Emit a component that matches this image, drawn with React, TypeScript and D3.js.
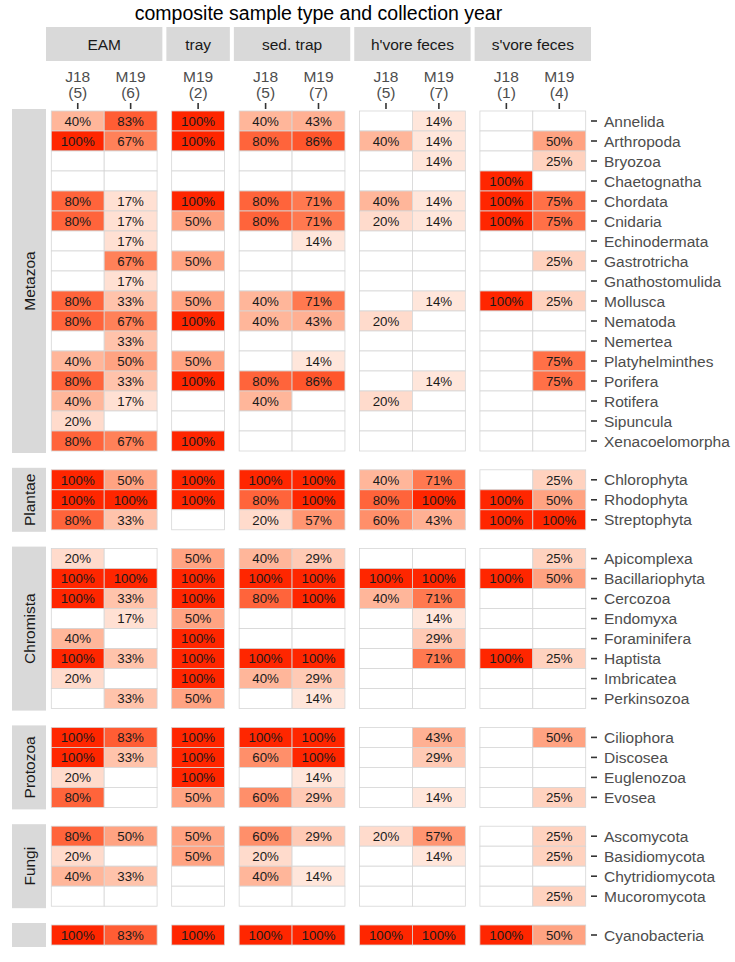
import React, { useEffect, useRef } from 'react';
import * as d3 from 'd3';

// sample columns (facet, collection year, number of samples)
const sampleTypes = ["EAM", "tray", "sed. trap", "h'vore feces", "s'vore feces"];
const columnType = ["EAM", "EAM", "tray", "sed. trap", "sed. trap", "h'vore feces", "h'vore feces", "s'vore feces", "s'vore feces"];
const columnYear = ["J18", "M19", "M19", "J18", "M19", "J18", "M19", "J18", "M19"];
const columnN = [5, 6, 2, 5, 7, 5, 7, 1, 4];

const groups = ["Metazoa", "Plantae", "Chromista", "Protozoa", "Fungi", ""];

const N = null;

const metazoa = ["Annelida", "Arthropoda", "Bryozoa", "Chaetognatha", "Chordata", "Cnidaria", "Echinodermata",
  "Gastrotricha", "Gnathostomulida", "Mollusca", "Nematoda", "Nemertea", "Platyhelminthes", "Porifera",
  "Rotifera", "Sipuncula", "Xenacoelomorpha"];
const metazoaValues = [
  [40, 83, 100, 40, 43, N, 14, N, N],
  [100, 67, 100, 80, 86, 40, 14, N, 50],
  [N, N, N, N, N, N, 14, N, 25],
  [N, N, N, N, N, N, N, 100, N],
  [80, 17, 100, 80, 71, 40, 14, 100, 75],
  [80, 17, 50, 80, 71, 20, 14, 100, 75],
  [N, 17, N, N, 14, N, N, N, N],
  [N, 67, 50, N, N, N, N, N, 25],
  [N, 17, N, N, N, N, N, N, N],
  [80, 33, 50, 40, 71, N, 14, 100, 25],
  [80, 67, 100, 40, 43, 20, N, N, N],
  [N, 33, N, N, N, N, N, N, N],
  [40, 50, 50, N, 14, N, N, N, 75],
  [80, 33, 100, 80, 86, N, 14, N, 75],
  [40, 17, N, 40, N, 20, N, N, N],
  [20, N, N, N, N, N, N, N, N],
  [80, 67, 100, N, N, N, N, N, N],
];

const plantae = ["Chlorophyta", "Rhodophyta", "Streptophyta"];
const plantaeValues = [
  [100, 50, 100, 100, 100, 40, 71, N, 25],
  [100, 100, 100, 80, 100, 80, 100, 100, 50],
  [80, 33, N, 20, 57, 60, 43, 100, 100],
];

const chromista = ["Apicomplexa", "Bacillariophyta", "Cercozoa", "Endomyxa", "Foraminifera", "Haptista",
  "Imbricatea", "Perkinsozoa"];
const chromistaValues = [
  [20, N, 50, 40, 29, N, N, N, 25],
  [100, 100, 100, 100, 100, 100, 100, 100, 50],
  [100, 33, 100, 80, 100, 40, 71, N, N],
  [N, 17, 50, N, N, N, 14, N, N],
  [40, N, 100, N, N, N, 29, N, N],
  [100, 33, 100, 100, 100, N, 71, 100, 25],
  [20, N, 100, 40, 29, N, N, N, N],
  [N, 33, 50, N, 14, N, N, N, N],
];

const protozoa = ["Ciliophora", "Discosea", "Euglenozoa", "Evosea"];
const protozoaValues = [
  [100, 83, 100, 100, 100, N, 43, N, 50],
  [100, 33, 100, 60, 100, N, 29, N, N],
  [20, N, 100, N, 14, N, N, N, N],
  [80, N, 50, 60, 29, N, 14, N, 25],
];

const fungi = ["Ascomycota", "Basidiomycota", "Chytridiomycota", "Mucoromycota"];
const fungiValues = [
  [80, 50, 50, 60, 29, 20, 57, N, 25],
  [20, N, 50, 20, N, N, 14, N, 25],
  [40, 33, N, 40, 14, N, N, N, N],
  [N, N, N, N, N, N, N, N, 25],
];

const bacteria = ["Cyanobacteria"];
const bacteriaValues = [
  [100, 83, 100, 100, 100, 100, 100, 100, 50],
];

const groupTaxa = [metazoa, plantae, chromista, protozoa, fungi, bacteria];
const groupValues = [metazoaValues, plantaeValues, chromistaValues, protozoaValues, fungiValues, bacteriaValues];

const FONT = "'Liberation Sans', Arial, Helvetica, sans-serif";

const App = () => {
  const svgRef = useRef<SVGSVGElement>(null);

  useEffect(() => {
    const svg = d3.select(svgRef.current);
    svg.selectAll("*").remove();

    const left = 46, right = 591, top = 109, bottom = 947;
    const hGap = 4, vGap = 14.8;
    const stripLeft = 12;

    const color = d3.scaleLinear<string>()
      .domain([0, 100])
      .range(["#ffffff", "#ff2600"])
      .interpolate(d3.interpolateLab);

    // horizontal panels
    const colsPer = sampleTypes.map(t => columnType.map((c, i) => c === t ? i : -1).filter(i => i >= 0));
    const unitW = (right - left - hGap * (sampleTypes.length - 1)) / d3.sum(colsPer, c => c.length + 0.2);
    let x0 = left;
    const xPanels = colsPer.map(cols => {
      const w = (cols.length + 0.2) * unitW;
      const sc = d3.scaleBand<number>().domain(cols).range([x0, x0 + w]).paddingInner(0).paddingOuter(0.1);
      const p = { x: x0, w, sc, cols };
      x0 += w + hGap;
      return p;
    });

    // vertical panels
    const unitH = (bottom - top - vGap * (groups.length - 1)) / d3.sum(groupTaxa, g => g.length + 0.2);
    let y0 = top;
    const yPanels = groupTaxa.map(names => {
      const h = (names.length + 0.2) * unitH;
      const sc = d3.scaleBand<string>().domain(names).range([y0, y0 + h]).paddingInner(0).paddingOuter(0.1);
      const p = { y: y0, h, sc };
      y0 += h + vGap;
      return p;
    });

    // title
    svg.append("text")
      .attr("x", (left + right) / 2)
      .attr("y", 20)
      .attr("text-anchor", "middle")
      .style("font-family", FONT)
      .style("font-size", "19.5px")
      .attr("fill", "#000")
      .text("composite sample type and collection year");

    // top strips
    xPanels.forEach((p, i) => {
      svg.append("rect")
        .attr("x", p.x).attr("y", 27).attr("width", p.w).attr("height", 34)
        .attr("fill", "#d9d9d9");
      svg.append("text")
        .attr("x", p.x + p.w / 2).attr("y", 44).attr("dy", "0.36em")
        .attr("text-anchor", "middle")
        .style("font-family", FONT).style("font-size", "15.5px")
        .attr("fill", "#1a1a1a")
        .text(sampleTypes[i]);

      // column axis (top)
      p.cols.forEach(ci => {
        const cx = p.sc(ci)! + p.sc.bandwidth() / 2;
        svg.append("text")
          .attr("x", cx).attr("y", 82)
          .attr("text-anchor", "middle")
          .style("font-family", FONT).style("font-size", "15.5px")
          .attr("fill", "#4d4d4d")
          .text(columnYear[ci]);
        svg.append("text")
          .attr("x", cx).attr("y", 97.5)
          .attr("text-anchor", "middle")
          .style("font-family", FONT).style("font-size", "15.5px")
          .attr("fill", "#4d4d4d")
          .text(`(${columnN[ci]})`);
        svg.append("line")
          .attr("x1", cx).attr("x2", cx).attr("y1", 103).attr("y2", 109)
          .attr("stroke", "#333").attr("stroke-width", 1.6);
      });
    });

    // left strips, tiles, right axis
    yPanels.forEach((yp, gi) => {
      svg.append("rect")
        .attr("x", stripLeft).attr("y", yp.y).attr("width", left - stripLeft).attr("height", yp.h)
        .attr("fill", "#d9d9d9");
      if (groups[gi]) {
        const cx = (stripLeft + left) / 2, cy = yp.y + yp.h / 2;
        svg.append("text")
          .attr("transform", `translate(${cx},${cy}) rotate(-90)`)
          .attr("dy", "0.36em")
          .attr("text-anchor", "middle")
          .style("font-family", FONT).style("font-size", "15.5px")
          .attr("fill", "#1a1a1a")
          .text(groups[gi]);
      }

      const names = groupTaxa[gi];
      const vals = groupValues[gi];

      xPanels.forEach(xp => {
        const g = svg.append("g");
        const cells = names.flatMap((name, ri) => xp.cols.map(ci => ({ name, ci, v: vals[ri][ci] })));
        g.selectAll("rect")
          .data(cells)
          .join("rect")
          .attr("x", d => xp.sc(d.ci)!)
          .attr("y", d => yp.sc(d.name)!)
          .attr("width", xp.sc.bandwidth())
          .attr("height", yp.sc.bandwidth())
          .attr("fill", d => d.v == null ? "#ffffff" : color(d.v))
          .attr("stroke", "#d6d6d6")
          .attr("stroke-width", 0.8);
        g.selectAll("text")
          .data(cells.filter(d => d.v != null))
          .join("text")
          .attr("x", d => xp.sc(d.ci)! + xp.sc.bandwidth() / 2)
          .attr("y", d => yp.sc(d.name)! + yp.sc.bandwidth() / 2)
          .attr("dy", "0.36em")
          .attr("text-anchor", "middle")
          .style("font-family", FONT).style("font-size", "13.3px")
          .attr("fill", "#1a1a1a")
          .text(d => `${d.v}%`);
      });

      // right axis
      names.forEach(name => {
        const cy = yp.sc(name)! + yp.sc.bandwidth() / 2;
        svg.append("line")
          .attr("x1", right).attr("x2", right + 6).attr("y1", cy).attr("y2", cy)
          .attr("stroke", "#333").attr("stroke-width", 1.6);
        svg.append("text")
          .attr("x", right + 13).attr("y", cy).attr("dy", "0.36em")
          .style("font-family", FONT).style("font-size", "15.5px")
          .attr("fill", "#4d4d4d")
          .text(name);
      });
    });
  }, []);

  return (
    <svg ref={svgRef} width={735} height={962}
      style={{ position: 'absolute', left: 0, top: 0, background: '#fff' }} />
  );
};

export default App;
